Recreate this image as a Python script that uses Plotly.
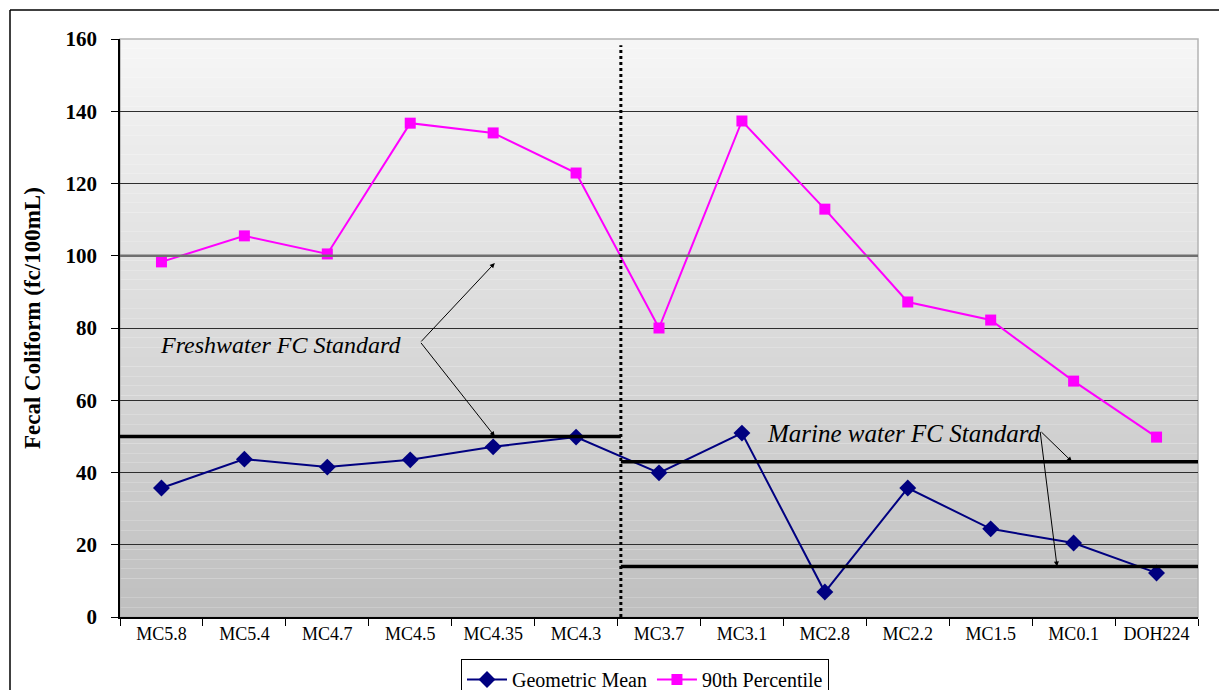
import plotly.graph_objects as go

# Sampling stations, upstream to downstream
stations = ["MC5.8", "MC5.4", "MC4.7", "MC4.5", "MC4.35", "MC4.3",
            "MC3.7", "MC3.1", "MC2.8", "MC2.2", "MC1.5", "MC0.1", "DOH224"]

# Fecal coliform statistics (fc/100mL)
geo_mean = [35.7, 43.7, 41.5, 43.5, 47.1, 49.8,
            39.9, 50.9, 6.9, 35.7, 24.4, 20.5, 12.2]
pct90 = [98.3, 105.5, 100.5, 136.7, 134.0, 122.9,
         80.0, 137.3, 112.9, 87.2, 82.2, 65.3, 49.8]

# Water quality standards
fresh_geo_std = 50
fresh_90_std = 100
marine_90_std = 43
marine_geo_std = 14

y_ticks = [0, 20, 40, 60, 80, 100, 120, 140, 160]

FONT = "Liberation Serif"

W, H = 1219, 690
ML, MR, MT, MB = 120, 21, 39, 73
PW, PH = W - ML - MR, H - MT - MB


def px_x(p):
    return (p - ML) / PW


def px_y(p):
    return (H - MB - p) / PH


fig = go.Figure()

fig.add_trace(go.Scatter(
    x=stations, y=geo_mean, name="Geometric Mean", mode="lines+markers",
    line=dict(color="#000080", width=2),
    marker=dict(symbol="diamond", size=13, color="#000080"),
))
fig.add_trace(go.Scatter(
    x=stations, y=pct90, name="90th Percentile", mode="lines+markers",
    line=dict(color="#ff00ff", width=2),
    marker=dict(symbol="square", size=11, color="#ff00ff"),
))

shapes = []
# vertical gradient in the plot area
n_bands = 60
top_c, bot_c = 246, 191
for i in range(n_bands):
    f = (i + 0.5) / n_bands
    c = round(top_c + (bot_c - top_c) * f)
    shapes.append(dict(type="rect", xref="paper", yref="paper",
                       x0=0, x1=1, y0=1 - (i + 1) / n_bands, y1=1 - i / n_bands,
                       fillcolor=f"rgb({c},{c},{c})", line=dict(width=0),
                       layer="below"))
# light plot frame
shapes.append(dict(type="rect", xref="paper", yref="paper", x0=0, x1=1, y0=0, y1=1,
                   line=dict(color="#b4b4b4", width=1.5), layer="below"))

split = 5.54  # boundary between freshwater and marine stations
# freshwater 90th percentile standard
shapes.append(dict(type="line", xref="paper", yref="y", x0=0, x1=1,
                   y0=fresh_90_std, y1=fresh_90_std,
                   line=dict(color="#6e6e6e", width=2.5), layer="above"))
# freshwater geometric mean standard
shapes.append(dict(type="line", xref="x", yref="y", x0=-0.56, x1=split,
                   y0=fresh_geo_std, y1=fresh_geo_std,
                   line=dict(color="black", width=3.5), layer="above"))
# marine standards
for v in (marine_90_std, marine_geo_std):
    shapes.append(dict(type="line", xref="x", yref="y", x0=split, x1=12.5,
                       y0=v, y1=v, line=dict(color="black", width=3.5), layer="above"))
# fresh / marine divider
shapes.append(dict(type="line", xref="x", yref="y", x0=split, x1=split,
                   y0=0, y1=158.3, line=dict(color="black", width=3, dash="dot"),
                   layer="above"))
# outer chart frame (left and top edges)
shapes.append(dict(type="line", xref="paper", yref="paper",
                   x0=px_x(10), x1=px_x(10), y0=px_y(10), y1=px_y(700),
                   line=dict(color="black", width=1.5)))
shapes.append(dict(type="line", xref="paper", yref="paper",
                   x0=px_x(10), x1=px_x(1230), y0=px_y(10), y1=px_y(10),
                   line=dict(color="black", width=1.5)))

annotations = [
    dict(text="<b>Fecal Coliform (fc/100mL)</b>", xref="paper", yref="paper",
         x=px_x(32), y=px_y(318), textangle=-90, showarrow=False,
         xanchor="center", yanchor="middle",
         font=dict(family=FONT, size=23, color="black")),
    dict(text="<i>Freshwater FC Standard</i>", xref="paper", yref="y",
         x=px_x(158), y=75.3, xanchor="left", yanchor="middle", showarrow=False,
         font=dict(family=FONT, size=24, color="black")),
    dict(text="<i>Marine water FC Standard</i>", xref="paper", yref="y",
         x=px_x(765), y=50.9, xanchor="left", yanchor="middle", showarrow=False,
         font=dict(family=FONT, size=25, color="black")),
]
# leader arrows from the labels to the standard lines
arrows = [
    (4.02, 98.0, -75, 80),
    (4.02, 50.0, -75, -95),
    (10.98, 43.0, -32, -31),
    (10.80, 14.0, -17, -136),
]
for ax_x, ax_y, dx, dy in arrows:
    annotations.append(dict(text="", x=ax_x, y=ax_y, xref="x", yref="y",
                            ax=dx, ay=dy, showarrow=True, arrowhead=2,
                            arrowsize=1, arrowwidth=1, arrowcolor="black"))

fig.update_layout(
    width=W, height=H,
    margin=dict(l=ML, r=MR, t=MT, b=MB, autoexpand=False),
    paper_bgcolor="white", plot_bgcolor="rgba(0,0,0,0)",
    font=dict(family=FONT, color="black"),
    shapes=shapes, annotations=annotations,
    showlegend=True,
    legend=dict(orientation="h", x=px_x(645), xanchor="center",
                y=px_y(659), yanchor="top",
                bgcolor="white", bordercolor="black", borderwidth=1,
                font=dict(family=FONT, size=20, color="black"),
                itemwidth=40, tracegroupgap=0),
    xaxis=dict(type="category", range=[-0.5, 12.5], showgrid=False,
               showline=True, linecolor="black", linewidth=1.5,
               ticks="outside", ticklen=7, tickcolor="black",
               tickson="boundaries",
               tickfont=dict(family=FONT, size=18, color="black"),
               zeroline=False),
    yaxis=dict(range=[0, 160], tickvals=y_ticks, showgrid=True,
               gridcolor="#2e2e2e", gridwidth=1,
               showline=True, linecolor="black", linewidth=1.5,
               ticks="outside", ticklen=7, tickcolor="black",
               ticklabelstandoff=10,
               tickfont=dict(family=FONT, size=21, color="black", weight="bold"),
               zeroline=False),
)

fig.write_html("out.html")
